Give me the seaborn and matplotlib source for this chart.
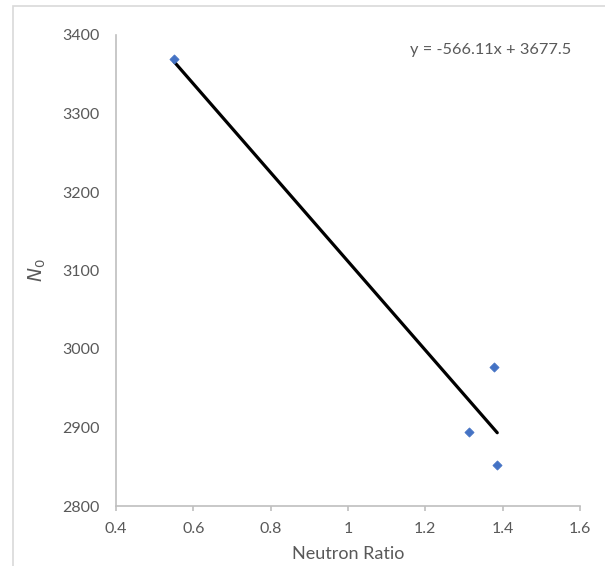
import matplotlib
matplotlib.use("Agg")
import matplotlib.pyplot as plt
import seaborn as sns
import pandas as pd
import numpy as np
from matplotlib.patches import Rectangle

neutron_ratio = [0.55, 1.312, 1.378, 1.386]
n0 = [3369, 2894, 2977.5, 2852]
x_ticks = [0.4, 0.6, 0.8, 1.0, 1.2, 1.4, 1.6]
x_tick_labels = ["0.4", "0.6", "0.8", "1", "1.2", "1.4", "1.6"]
y_ticks = [2800, 2900, 3000, 3100, 3200, 3300, 3400]
equation = "y = -566.11x + 3677.5"

df = pd.DataFrame({"Neutron Ratio": neutron_ratio, "N0": n0})

sns.set_theme(style="white")
plt.rcParams['font.family'] = ['Lato', 'DejaVu Sans']

fig = plt.figure(figsize=(6.05, 5.66), dpi=100)
ax = fig.add_axes([116/605, 1-506/566, (580-116)/605, (506-35)/566])

# chart border (top & left visible)
fig.patches.append(Rectangle((13/605, -0.1), 1.2, 1.1 - 6/566,
                             transform=fig.transFigure, fill=False,
                             edgecolor="#d9d9d9", linewidth=1.2, zorder=0))

sns.regplot(data=df, x="Neutron Ratio", y="N0", scatter=False, ci=None,
            color="black", line_kws={"linewidth": 2.3}, ax=ax)
sns.scatterplot(data=df, x="Neutron Ratio", y="N0", marker="D", s=22,
                color="#4472C4", edgecolor="#4472C4", linewidth=0.5, ax=ax, zorder=3)

ax.set_xlim(0.4, 1.6)
ax.set_ylim(2800, 3400)
ax.set_xticks(x_ticks)
ax.set_xticklabels(x_tick_labels)
ax.set_yticks(y_ticks)

for s in ["top", "right"]:
    ax.spines[s].set_visible(False)
for s in ["left", "bottom"]:
    ax.spines[s].set_color("#bfbfbf")
    ax.spines[s].set_linewidth(1.2)

ax.tick_params(axis="x", which="both", bottom=True, direction="out", length=3.5,
               width=1.2, color="#bfbfbf", labelcolor="#595959", labelsize=11.5, pad=8)
ax.tick_params(axis="y", left=False, labelcolor="#595959", labelsize=11.5, pad=6)

ax.set_xlabel("Neutron Ratio", fontsize=13, color="#595959", labelpad=7)
ax.set_ylabel("$N_0$", fontsize=13.5, color="#595959", labelpad=10)

fig.text(491/605, 1-50/566, equation, ha="center", va="center",
         fontsize=11.8, color="#595959")

fig.savefig("out.png", dpi=100)
